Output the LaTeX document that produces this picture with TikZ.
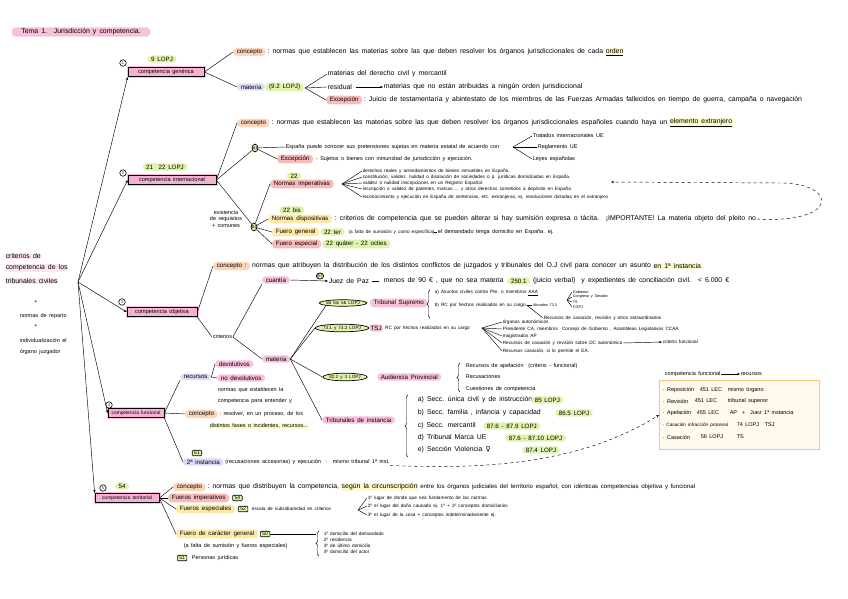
\documentclass[tikz,border=0pt]{standalone}
\usepackage{fontspec}
\setmainfont{Liberation Sans}[WordSpace=1.6]
\newfontfamily\symfont{DejaVu Sans}
\usepackage{tikz}
\usetikzlibrary{arrows.meta,positioning,shapes.geometric,decorations.pathreplacing}

\definecolor{pinkc}{RGB}{248,192,218}
\definecolor{boxpink}{RGB}{245,178,208}
\definecolor{rootpink}{RGB}{253,230,240}
\definecolor{orangec}{RGB}{252,213,186}
\definecolor{lavc}{RGB}{219,219,250}
\definecolor{greenc}{RGB}{224,243,172}
\definecolor{yellowc}{RGB}{253,234,168}
\definecolor{redc}{RGB}{250,186,186}
\definecolor{hlc}{RGB}{253,250,206}
\definecolor{boxorange}{RGB}{250,196,122}
\definecolor{boxfill}{RGB}{255,249,238}

\begin{document}
\begin{tikzpicture}[x=1pt,y=-1pt,
    every node/.style={inner sep=0.6pt, anchor=west},
    hand/.style={font=\fontsize{6.9}{7.6}\selectfont},
    small/.style={font=\fontsize{5.5}{6.2}\selectfont},
    tiny/.style={font=\fontsize{4.7}{5.2}\selectfont},
    micro/.style={font=\fontsize{3.8}{4.2}\selectfont},
    pill/.style={rounded corners=3.5pt, inner xsep=3.6pt, inner ysep=1.4pt, font=\fontsize{6.2}{7}\selectfont},
    pinkp/.style={pill, fill=pinkc},
    orangep/.style={pill, fill=orangec},
    lavp/.style={pill, fill=lavc},
    greenp/.style={pill, fill=greenc},
    yellowp/.style={pill, fill=yellowc},
    redp/.style={pill, fill=redc},
    compbox/.style={draw, line width=0.8pt, fill=boxpink, anchor=center, minimum height=9.5pt,
        inner sep=1pt, font=\fontsize{5.6}{6}\selectfont, preaction={draw=pinkc, line width=3pt}},
    numc/.style={circle, draw, line width=0.6pt, inner sep=0.2pt, anchor=center, minimum size=6.5pt,
        font=\fontsize{3.8}{4}\selectfont},
    gbox/.style={draw, line width=0.6pt, fill=greenc, rounded corners=1pt, inner xsep=2pt, inner ysep=1pt,
        font=\fontsize{5}{6}\selectfont},
    gell/.style={ellipse, draw, line width=0.7pt, fill=greenc, inner xsep=0pt, inner ysep=0.6pt,
        anchor=center, font=\fontsize{4.6}{5}\selectfont},
    link/.style={draw, line width=0.45pt},
    arr/.style={link, -{Stealth[length=3pt,width=2.4pt]}},
    brc/.style={draw, line width=0.45pt, decorate, decoration={brace, amplitude=3pt}},
  ]
  \useasboundingbox (0,0) rectangle (848,599);

  % Title
  \node[pinkp, hand, anchor=center, minimum width=138pt, minimum height=9pt] (title) at (81,32) {Tema 1. \ Jurisdicción y competencia.};

  % Root text
  \node[hand, fill=rootpink, rounded corners=3pt] (root1) at (5,256) {criterios de};
  \node[hand, fill=rootpink, rounded corners=3pt] (root2) at (5,268) {competencia de los};
  \node[hand, fill=rootpink, rounded corners=3pt] (root3) at (5,281) {tribunales civiles};
  \node[small, anchor=center] (plus1) at (36,302) {+};
  \node[small] (root4) at (19,316) {normas de reparto};
  \node[small, anchor=center] (plus2) at (36,326) {+};
  \node[small] (root5) at (19,340) {individualización el};
  \node[small] (root6) at (19,352) {órgano juzgador};
  \coordinate (hub) at (78,282);

  % The five kinds of competence
  \node[compbox, minimum width=76pt] (gen) at (166,72) {competencia genérica};
  \node[compbox, minimum width=88pt] (int) at (172,180) {competencia internacional};
  \node[compbox, minimum width=70pt] (obj) at (162,312) {competencia objetiva};
  \node[compbox, minimum width=56pt, font=\fontsize{4.8}{5}\selectfont] (fun) at (136,413) {competencia funcional};
  \node[compbox, minimum width=64pt, font=\fontsize{5}{5.5}\selectfont] (ter) at (127,498) {competencia territorial};
  \node[numc] (num1) at (123,63) {1};
  \node[numc] (num2) at (123,173) {2};
  \node[numc] (num3) at (122,302) {3};
  \node[numc] (num4) at (109,405) {4};
  \node[numc] (num5) at (103,488) {5};
  \node[greenp, anchor=center] (g9) at (162,59) {9 LOPJ};
  \node[greenp, anchor=center] (g21) at (165,167) {21 \ 22 LOPJ};
  \node[greenp, anchor=center] (g54a) at (122,486) {54};
  \draw[arr] (hub) -- (gen.south west);
  \draw[arr] (hub) -- (int.west);
  \draw[arr] (hub) -- (obj.west);
  \draw[arr] (hub) -- (fun.west);
  \draw[arr] (hub) -- (ter.north west);

  % 1. competencia generica
  \node[orangep] (gcon) at (233,52) {concepto};
  \node[hand, right=1pt of gcon] (gcontxt) {:\ normas que establecen las materias sobre las que deben resolver los órganos jurisdiccionales de cada};
  \node[hand, fill=hlc, right=1pt of gcontxt] (gconhl) {\underline{orden}};
  \node[lavp] (gmat) at (237,87) {materia};
  \node[greenp, right=0pt of gmat] (g92) {(9.2 LOPJ)};
  \draw[link] (gen.east) -- (gcon.west);
  \draw[link] (gen.east) -- (gmat.west);
  \coordinate (gfork) at (305,88);
  \node[hand] (gm1) at (327,74) {materias del derecho civil y mercantil};
  \node[hand] (gm2) at (327,87) {residual};
  \node[hand] (gm2b) at (383,87) {materias que no están atribuidas a ningún orden jurisdiccional};
  \node[redp] (gexc) at (326,100) {Excepción};
  \node[hand, right=1pt of gexc] (gexctxt) {:\ Juicio de testamentaría y abintestato de los miembros de las Fuerzas Armadas fallecidos en tiempo de guerra, campaña o navegación};
  \draw[link] (gfork) -- (gm1.west);
  \draw[link] (gfork) -- (gm2.west);
  \draw[link] (gfork) -- (gexc.west);
  \draw[arr] (gm2.east) ++(3,0) -- (gm2b.west);

  % 2. competencia internacional
  \node[orangep] (icon) at (237,123) {concepto};
  \node[hand, right=1pt of icon] (icontxt) {:\ normas que establecen las materias sobre las que deben resolver los órganos jurisdiccionales españoles cuando haya un};
  \node[hand, fill=hlc, right=1pt of icontxt] (iconhl) {\underline{elemento extranjero}};
  \draw[link] (int.east) -- (icon.west);
  \node[gell] (ia) at (255,148) {a)};
  \node[gell] (ib) at (254,227) {b)};
  \draw[link] (int.east) -- (ia);
  \draw[link] (int.east) -- (ib);
  \node[small] (iesp) at (285,147) {España puede conocer sus pretensiones sujetas en materia estatal de acuerdo con};
  \node[redp] (iexc) at (277,159) {Excepción};
  \node[small, right=2pt of iexc] (iexctxt) {-\ Sujetos o bienes con inmunidad de jurisdicción y ejecución.};
  \draw[link] (ia) -- (iesp.west);
  \draw[link] (ia) -- (iexc.west);
  \coordinate (ifork) at (513,147);
  \node[small] (it1) at (532,136) {Tratados internacionales UE};
  \node[small] (it2) at (537,147) {Reglamento UE};
  \node[small] (it3) at (532,159) {Leyes españolas};
  \draw[link] (ifork) -- (it1.west);
  \draw[link] (ifork) -- (it2.west);
  \draw[link] (ifork) -- (it3.west);
  \node[small, align=center, anchor=center] (ireq) at (226,219) {existencia\\de requisitos\\+ comunes};

  % normas imperativas
  \node[greenp, anchor=center] (g22) at (294,176) {22};
  \node[redp] (iimp) at (270,184) {Normas imperativas};
  \draw[link] (ib) -- (iimp.west);
  \coordinate (iimpfork) at (342,184);
  \node[tiny] (im1) at (362,171) {derechos reales y arrendamientos de bienes inmuebles en España.};
  \node[tiny] (im2) at (362,177) {constitución, validez, nulidad o disolución de sociedades o p. jurídicas domiciliadas en España.};
  \node[tiny] (im3) at (362,183) {validez o nulidad inscripciones en un Registro Español.};
  \node[tiny] (im4) at (362,189) {inscripción o validez de patentes, marcas ... y otros derechos sometidos a depósito en España};
  \node[tiny] (im5) at (362,197) {reconocimiento y ejecución en España de sentencias, etc. extranjeras, ej. resoluciones dictadas en el extranjero};
  \draw[link] (iimpfork) -- (im1.west);
  \draw[link] (iimpfork) -- (im2.west);
  \draw[link] (iimpfork) -- (im3.west);
  \draw[link] (iimpfork) -- (im4.west);
  \draw[link] (iimpfork) -- (im5.west);

  % normas dispositivas and fueros
  \node[greenp, anchor=center] (g22b) at (292,210) {22 bis};
  \node[yellowp] (idis) at (268,219) {Normas dispositivas};
  \node[hand, right=2pt of idis] (idistxt) {:\ criterios de competencia que se pueden alterar si hay sumisión expresa o tácita. \ ¡IMPORTANTE! La materia objeto del pleito no};
  \node[yellowp] (igen) at (272,232) {Fuero general};
  \node[greenp, right=1pt of igen] (g22t) {22 ter};
  \node[tiny, right=3pt of g22t] (igentxt) {(a falta de sumisión y como específica)};
  \node[small] (igentxt2) at (437,232) {el demandado tenga domicilio en España. ej.};
  \node[redp] (iesp2) at (272,244) {Fuero especial};
  \node[greenp, right=1pt of iesp2] (g22q) {22 quáter - 22 octies};
  \draw[link] (ib) -- (idis.west);
  \draw[link] (ib) -- (igen.west);
  \draw[link] (ib) -- (iesp2.west);
  \draw[link] ([xshift=2pt]igentxt.east) -- ([xshift=-3pt]igentxt2.west);
  \coordinate (dend) at (611,182);
  \draw[link, dashed, -{Stealth[length=3pt,width=2.4pt]}] (idistxt.east) .. controls (840,224) and (838,183) .. (780,183) -- (dend);

  % 3. competencia objetiva
  \node[orangep] (ocon) at (213,266) {concepto :};
  \node[hand, right=1pt of ocon] (ocontxt) {normas que atribuyen la distribución de los distintos conflictos de juzgados y tribunales del O.J civil para conocer un asunto};
  \node[hand, fill=hlc, right=1pt of ocontxt] (oconhl) {en 1ª instancia};
  \draw[link] (obj.east) -- (ocon.west);
  \node[small] (ocrit) at (212,337) {criterios};
  \draw[link] (obj.south east) -- (ocrit.west);
  \node[pinkp] (ocua) at (262,280) {cuantía};
  \node[pinkp] (omat) at (262,359) {materia};
  \draw[link] (ocrit.east) -- (ocua.south west);
  \draw[link] (ocrit.east) -- (omat.west);

  % cuantia
  \node[gell, draw] (g47) at (320,276) {47};
  \node[hand] (ojp) at (328,281) {Juez de Paz};
  \node[hand] (ojptxt) at (383,281) {menos de 90 € , que no sea materia};
  \node[greenp, right=3pt of ojptxt] (g250) {250.1};
  \node[hand, right=2pt of g250] (ojptxt2) {(juicio verbal) \ y expedientes de conciliación civil. \ < 6.000 €};
  \draw[arr] (ocua.east) -- (ojp.west);
  \draw[link] ([xshift=2pt]ojp.east) -- ([xshift=-4pt]ojptxt.west);

  % materia: Tribunal Supremo
  \node[gell] (e56) at (343,303) {56 bis 56 LOPJ};
  \node[pinkp] (ots) at (370,303) {Tribunal Supremo};
  \draw[link] (omat.east) -- (e56.south west);
  \draw[brc] (430,318) -- (430,290);
  \node[tiny] (otsa) at (434,293) {a) Asuntos civiles contra Pte. o miembros \underline{AAA}};
  \node[tiny] (otsb) at (434,305) {b) RC por hechos realizados en su cargo};
  \node[micro] (otsaf) at (532,305) {Aforados 73.3};
  \coordinate (otsfork) at (567,300);
  \node[micro] (ots1) at (572,292) {Gobierno};
  \node[micro] (ots2) at (572,297) {Congreso y Senado};
  \node[micro] (ots3) at (572,302) {TS};
  \node[micro] (ots4) at (572,307) {CGPJ};
  \draw[link] (otsb.east) -- (otsaf.west);
  \draw[link] (otsfork) -- (ots1.west);
  \draw[link] (otsfork) -- (ots2.west);
  \draw[link] (otsfork) -- (ots3.west);
  \draw[link] (otsfork) -- (ots4.west);
  \node[tiny] (otsc) at (543,318) {Recursos de casación, revisión y otros extraordinarios};
  \draw[link] (otsb.east) -- (otsc.west);

  % materia: TSJ
  \node[gell] (e73) at (342,328) {73.1 y 73.2 LOPJ};
  \node[pinkp, inner xsep=1.5pt] (otsj) at (369,328) {TSJ};
  \node[tiny, right=1pt of otsj] (otsjtxt) {RC por hechos realizados en su cargo};
  \draw[link] (omat.east) -- (e73.west);
  \coordinate (otsjfork) at (482,328);
  \node[tiny] (oj1) at (502,322) {órganos autonómicos};
  \node[tiny] (oj2) at (502,329) {Presidente CA, miembros \ Consejo de Gobierno , Asambleas Legislativas CCAA};
  \node[tiny] (oj3) at (502,336) {magistrados AP};
  \node[tiny] (oj4) at (502,343) {Recursos de casación y revisión sobre DC autonómico};
  \node[tiny] (oj4b) at (662,342) {criterio funcional};
  \node[tiny] (oj5) at (502,351) {Recursos casación, si lo permite el EA.};
  \draw[link] (otsjfork) -- (oj1.west);
  \draw[link] (otsjfork) -- (oj2.west);
  \draw[link] (otsjfork) -- (oj3.west);
  \draw[link] (otsjfork) -- (oj4.west);
  \draw[link] (otsjfork) -- (oj5.west);
  \draw[arr] (oj4.east) -- (oj4b.west);

  % materia: Audiencia Provincial
  \node[gell] (e82) at (345,377) {82.2 y 3 LOPJ};
  \node[pinkp] (oap) at (377,377) {Audiencia Provincial};
  \draw[link] (omat.east) -- (e82.west);
  \draw[brc] (460,392) -- (460,363);
  \node[small] (oap1) at (465,366) {Recursos de apelación \ (criterio - funcional)};
  \node[small] (oap2) at (465,377) {Recusaciones};
  \node[small] (oap3) at (465,389) {Cuestiones de competencia};

  % materia: Tribunales de instancia
  \node[pinkp] (oti) at (322,420) {Tribunales de instancia};
  \draw[link] (omat.east) -- (oti.west);
  \draw[brc] (408,457) -- (408,395);
  \node[hand] (ot1) at (417,400) {a) Secc. única civil y de instrucción};
  \node[greenp] (got1) at (531,400) {85 LOPJ};
  \node[hand] (ot2) at (417,413) {b) Secc. familia , infancia y capacidad};
  \node[greenp] (got2) at (555,413) {86.5 LOPJ};
  \node[hand] (ot3) at (417,426) {c) Secc. mercantil};
  \node[greenp] (got3) at (483,426) {87.6 - 87.9 LOPJ};
  \node[hand] (ot4) at (417,438) {d) Tribunal Marca UE};
  \node[greenp] (got4) at (505,438) {87.6 - 87.10 LOPJ};
  \node[hand] (ot5) at (417,450) {e) Sección Violencia {\symfont ♀}};
  \node[greenp] (got5) at (522,450) {87.4 LOPJ};

  % 4. competencia funcional
  \node[lavp] (frec1) at (180,377) {recursos};
  \node[pinkp] (fdev) at (215,364) {devolutivos};
  \node[pinkp] (fnodev) at (217,378) {no devolutivos};
  \draw[link] (fun.east) -- (frec1.south west);
  \draw[link] (frec1.east) -- (fdev.west);
  \draw[link] (frec1.east) -- (fnodev.west);
  \node[small] (fc1) at (217,390) {normas que establecen la};
  \node[small] (fc2) at (217,401) {competencia para entender y};
  \node[orangep] (fcon) at (185,414) {concepto};
  \node[small, right=1pt of fcon] (fc3) {:\ resolver, en un proceso, de los};
  \node[small, fill=hlc] (fc4) at (209,426) {distintos fases o incidentes, recursos...};
  \draw[link] (fun.east) -- (fcon.west);
  \node[gbox, anchor=center] (g61) at (197,453) {61};
  \node[lavp] (f2) at (183,462) {2ª instancia};
  \node[small, right=1pt of f2] (f2txt) {(recusaciones accesorias) y ejecución \ : \ mismo tribunal 1ª inst.};
  \draw[link] (fun.south east) -- (f2.west);

  % recursos box
  \node[small] (frhd) at (664,374) {competencia funcional};
  \node[small] (frhd2) at (740,374) {recursos};
  \draw[arr] (frhd.east) -- (frhd2.west);
  \node[draw=boxorange, line width=1pt, fill=boxfill, minimum width=160pt, minimum height=69pt, anchor=north west] (frec) at (659,380) {};
  \node[small] (rp1) at (662,390) {· Reposición};
  \node[small] (rp1b) at (699,390) {451 LEC};
  \node[small] (rp1c) at (727,390) {mismo órgano};
  \node[small] (rp2) at (662,401) {· Revisión};
  \node[small] (rp2b) at (694,401) {451 LEC};
  \node[small] (rp2c) at (727,401) {tribunal superior};
  \node[small] (rp3) at (662,413) {· Apelación};
  \node[small] (rp3b) at (696,413) {455 LEC};
  \node[small] (rp3c) at (729,413) {AP \ + \ Juez 1ª instancia};
  \node[tiny] (rp4) at (662,425) {· Casación infracción procesal};
  \node[small] (rp4b) at (736,425) {74 LOPJ};
  \node[small] (rp4c) at (764,425) {TSJ};
  \node[small] (rp5) at (662,437) {· Casación};
  \node[small] (rp5b) at (700,437) {56 LOPJ};
  \node[small] (rp5c) at (736,437) {TS};
  \draw[link, dashed, -{Stealth[length=3pt,width=2.4pt]}] (f2txt.south east) .. controls (520,472) and (600,452) .. (frec.west);

  % 5. competencia territorial
  \node[orangep] (tcon) at (173,487) {concepto};
  \node[hand, right=1pt of tcon] (tcontxt) {:\ normas que distribuyen la competencia,};
  \node[hand, fill=hlc, right=1pt of tcontxt] (tconhl) {según la circunscripción};
  \node[font=\fontsize{6.1}{6.8}\selectfont, right=1pt of tconhl] (tcontxt2) {entre los órganos judiciales del territorio español, con idénticas competencias objetiva y funcional};
  \node[redp] (timp) at (168,498) {Fueros imperativos};
  \node[gbox, right=3pt of timp] (g54) {54};
  \node[yellowp] (tesp) at (176,509) {Fueros especiales};
  \node[gbox, right=3pt of tesp] (g52) {52};
  \node[tiny, right=3pt of g52] (tesptxt) {escala de subsidiariedad en criterios};
  \node[yellowp] (tgen) at (176,534) {Fuero de carácter general};
  \node[gbox, right=2pt of tgen] (g50) {50};
  \node[small] (tgentxt) at (183,546) {(a falta de sumisión y fueros especiales)};
  \node[gbox] (g51) at (177,558) {51};
  \node[small, right=4pt of g51] (tpj) {Personas jurídicas};
  \draw[link] (ter.east) -- (tcon.west);
  \draw[link] (ter.east) -- (timp.west);
  \draw[link] (ter.east) -- (tesp.west);
  \draw[link] (ter.east) -- (tgen.west);
  \coordinate (tfork) at (358,510);
  \node[tiny] (te1) at (367,498) {1º lugar de donde que sea fundamento de las normas};
  \node[tiny] (te2) at (367,506) {2º el lugar del daño causado ej. 1º + 2º conceptos domiciliarios};
  \node[tiny] (te3) at (367,515) {3º el lugar de la cosa + conceptos indeterminadamente ej.};
  \draw[link] (tfork) -- (te1.west);
  \draw[link] (tfork) -- (te2.west);
  \draw[link] (tfork) -- (te3.west);
  \coordinate (tbr) at (316,534);
  \draw[link] (g50.east) -- (tbr);
  \draw[brc] (319,556) -- (319,531);
  \node[tiny] (tg1) at (323,534) {1º domicilio del demandado};
  \node[tiny] (tg2) at (323,540) {2º residencia};
  \node[tiny] (tg3) at (323,546) {3º de último domicilio};
  \node[tiny] (tg4) at (323,552) {4º domicilio del actor};
\end{tikzpicture}
\end{document}
